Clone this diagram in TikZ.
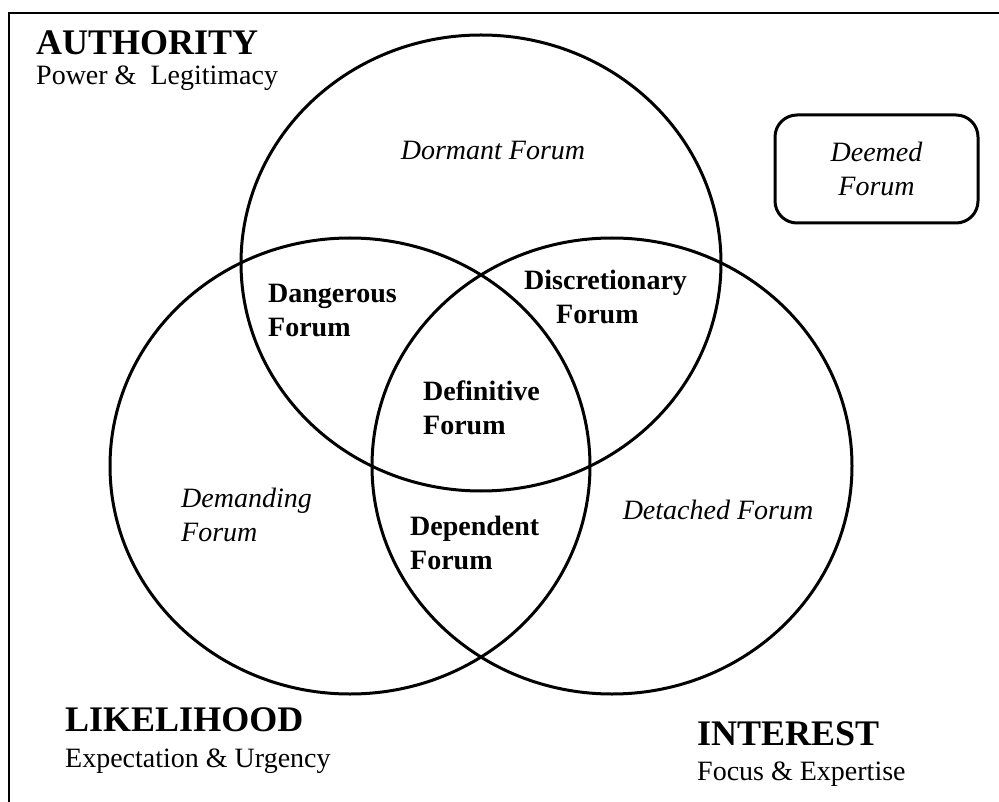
\documentclass[tikz,border=0pt]{standalone}
\usepackage{fontspec}
\setmainfont{Liberation Serif}

\begin{document}
\begin{tikzpicture}[x=1pt,y=-1pt,
    ring/.style={line width=3pt},
    frameline/.style={line width=2pt},
    head/.style={inner sep=0pt,anchor=base west,font=\fontsize{36}{40}\selectfont\bfseries},
    sub/.style={inner sep=0pt,anchor=base west,font=\fontsize{28}{34}\selectfont},
    zone/.style={inner sep=0pt,align=left,font=\fontsize{28}{34}\selectfont\bfseries},
    izone/.style={inner sep=0pt,align=left,font=\fontsize{28}{34}\selectfont\itshape}]
    \useasboundingbox (0.00,0.00) rectangle (999.00,802.00);
    \draw [frameline] (999.00,13.00) -- (9.00,13.00) -- (9.00,802.00);
    \draw [ring] (481.00,263.00) ellipse [x radius=240, y radius=228];
    \draw [ring] (350.00,466.00) ellipse [x radius=240, y radius=228];
    \draw [ring] (612.00,466.00) ellipse [x radius=240, y radius=228];
    \node [head] (auth) at (36.00,55.00) {AUTHORITY};
    \node [sub] (authsub) at (36.00,85.00) {Power \&\ \ Legitimacy};
    \node [head] (like) at (65.00,731.00) {LIKELIHOOD};
    \node [sub] (likesub) at (65.00,767.00) {Expectation \& Urgency};
    \node [head] (inte) at (697.00,745.00) {INTEREST};
    \node [sub] (intesub) at (697.00,780.00) {Focus \& Expertise};
    \node [izone] (dormant) at (493.00,150.00) {Dormant Forum};
    \node [zone, anchor=west] (dangerous) at (268.00,311.00) {Dangerous\\Forum};
    \node [zone, anchor=west] (discret) at (524.00,297.00) {Discretionary\\\hspace*{32pt}Forum};
    \node [zone, anchor=west] (definitive) at (423.00,408.00) {Definitive\\Forum};
    \node [izone, anchor=west] (demanding) at (181.00,515.00) {Demanding\\Forum};
    \node [zone, anchor=west] (dependent) at (410.00,543.00) {Dependent\\Forum};
    \node [izone] (detached) at (718.00,510.00) {Detached Forum};
    \node [izone, draw, align=center, line width=3pt, rounded corners=22pt,
      minimum width=203pt, minimum height=108pt] (deemed) at (876.50,169.00) {Deemed\\Forum};
  \end{tikzpicture}
\end{document}
